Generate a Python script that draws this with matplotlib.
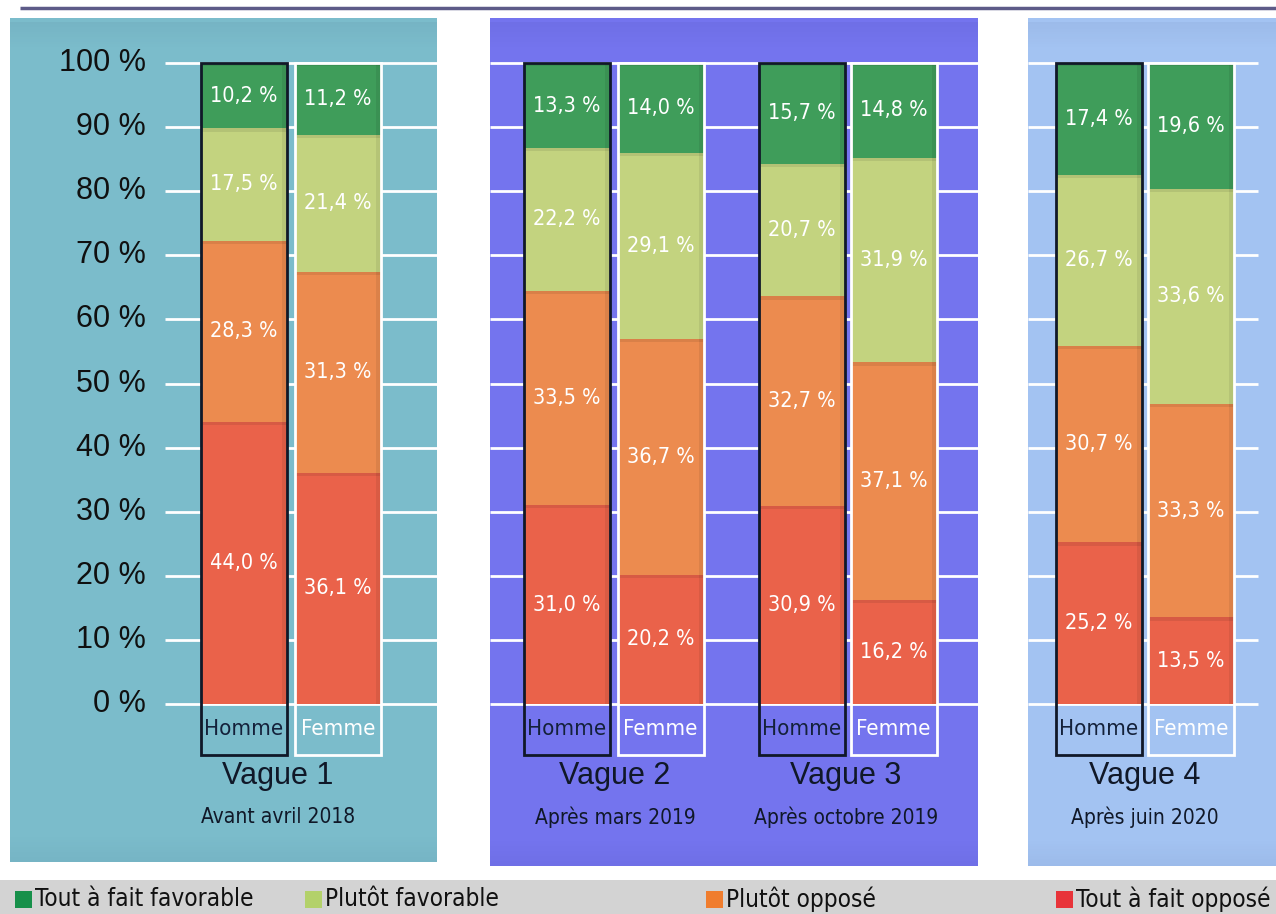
import matplotlib
matplotlib.use('Agg')
import matplotlib.pyplot as plt
from matplotlib.patches import Rectangle
from matplotlib import font_manager as fm
import numpy as np

# ---------------- data ----------------
waves = ['Vague 1', 'Vague 2', 'Vague 3', 'Vague 4']
periods = ['Avant avril 2018', 'Après mars 2019', 'Après octobre 2019', 'Après juin 2020']
sexes = ['Homme', 'Femme']
categories = ['Tout à fait favorable', 'Plutôt favorable', 'Plutôt opposé', 'Tout à fait opposé']
# order of bars: V1 H, V1 F, V2 H, V2 F, V3 H, V3 F, V4 H, V4 F
tout_oppose = [44.0, 36.1, 31.0, 20.2, 30.9, 16.2, 25.2, 13.5]
plutot_oppose = [28.3, 31.3, 33.5, 36.7, 32.7, 37.1, 30.7, 33.3]
plutot_favorable = [17.5, 21.4, 22.2, 29.1, 20.7, 31.9, 26.7, 33.6]
tout_favorable = [10.2, 11.2, 13.3, 14.0, 15.7, 14.8, 17.4, 19.6]
ytick_values = [0, 10, 20, 30, 40, 50, 60, 70, 80, 90, 100]

# ---------------- layout / style ----------------
W, H = 1276, 914
Y0, PX_PER_PCT = 704.0, 6.41


def py(p):
    """pixel row -> percent axis value"""
    return (Y0 - p) / PX_PER_PCT


bar_x = [243.5, 338, 567, 660.5, 801.5, 893.5, 1098.5, 1191]
bar_w = 86
wave_x = [278, 615, 846, 1145]

seg_colors = {'Tout à fait opposé': '#ea624a', 'Plutôt opposé': '#ec8b4f',
              'Plutôt favorable': '#c3d37f', 'Tout à fait favorable': '#3f9d5a'}
legend_colors = {'Tout à fait favorable': '#17904a', 'Plutôt favorable': '#b3d16a',
                 'Plutôt opposé': '#f07d2e', 'Tout à fait opposé': '#e8343a'}

has_cond = any(f.name == 'DejaVu Sans' and 'condensed' in str(f.stretch)
               for f in fm.fontManager.ttflist)
if has_cond:
    narrow = dict(family=['DejaVu Sans'], fontstretch='condensed')
    nscale = 1.0
else:
    narrow = dict(family=['Liberation Sans', 'DejaVu Sans'])
    nscale = 1.05
arial = ['Liberation Sans', 'DejaVu Sans']

fig = plt.figure(figsize=(W / 100, H / 100), dpi=100)
ax = fig.add_axes([0, 0, 1, 1])
ax.set_xlim(0, W)
ax.set_ylim(py(H), py(0))
ax.axis('off')

# top rule
ax.plot([20, W], [py(8), py(8)], color='#5d5b88', lw=2.5, zorder=1, solid_capstyle='butt')

# panels (x0, x1, y0, y1 in pixels) and colour
panels = [((10, 437, 18, 862), '#7bbccb', 165),
          ((490, 978, 18, 866), '#7474ee', 490),
          ((1028, 1276, 18, 866), '#a3c3f2', 1028)]
for (x0, x1, y0, y1), col, gx0 in panels:
    ax.add_patch(Rectangle((x0, py(y1)), x1 - x0, py(y0) - py(y1), facecolor=col,
                           edgecolor='none', zorder=0))
    for k in range(10):
        a = 0.04
        ax.add_patch(Rectangle((x0, py(y0 + 6 + 2.5 * k)), x1 - x0, 2.5 / PX_PER_PCT,
                               facecolor='#000030', alpha=a * (10 - k) / 10, edgecolor='none', zorder=0.2))
        ax.add_patch(Rectangle((x0, py(y1 - 2.5 * k)), x1 - x0, 2.5 / PX_PER_PCT,
                               facecolor='#000030', alpha=a * (10 - k) / 10, edgecolor='none', zorder=0.2))
    gx1 = x1 if x1 < W else 1258
    for v in ytick_values:
        ax.plot([gx0, gx1], [v, v], color='white', lw=2, zorder=1, solid_capstyle='butt')

# y tick labels
for v in ytick_values:
    ax.text(146, v, f'{v} %', ha='right', va='center', fontsize=22, family=arial,
            color='#101010', zorder=4)

# stacked bars
stack_order = [('Tout à fait opposé', tout_oppose), ('Plutôt opposé', plutot_oppose),
               ('Plutôt favorable', plutot_favorable), ('Tout à fait favorable', tout_favorable)]
bottom = np.zeros(len(bar_x))
for name, vals in stack_order:
    vals = np.array(vals)
    ax.bar(bar_x, vals, bottom=bottom, width=bar_w, color=seg_colors[name],
           edgecolor='none', zorder=2)
    for x, b, v in zip(bar_x, bottom, vals):
        ax.add_patch(Rectangle((x - bar_w / 2, b + v - 0.5), bar_w, 0.5, facecolor='black',
                               alpha=0.08, edgecolor='none', zorder=2.1))
        ax.add_patch(Rectangle((x + bar_w / 2 - 5, b), 5, v, facecolor='black',
                               alpha=0.07, edgecolor='none', zorder=2.1))
        ax.text(x, b + v / 2, f'{v:.1f} %'.replace('.', ','), ha='center', va='center',
                fontsize=15.5 * nscale, color='white', zorder=4, **narrow)
    bottom += vals

# Homme / Femme boxes and labels
for i, x in enumerate(bar_x):
    is_h = (i % 2 == 0)
    ec = '#101828' if is_h else 'white'
    ax.add_patch(Rectangle((x - bar_w / 2, py(755)), bar_w, 100 - py(755), facecolor='none',
                           edgecolor=ec, lw=2, zorder=3))
    ax.text(x, py(729), sexes[i % 2], ha='center', va='center', fontsize=16 * nscale,
            color='#14213a' if is_h else 'white', zorder=4, **narrow)

# wave labels
for wx, wname, per in zip(wave_x, waves, periods):
    ax.text(wx, py(776), wname, ha='center', va='center', fontsize=22, family=arial,
            color='#101828', zorder=4)
    ax.text(wx, py(817), per, ha='center', va='center', fontsize=15 * nscale,
            color='#101828', zorder=4, **narrow)

# legend band
ax.add_patch(Rectangle((0, py(914)), W, py(880) - py(914), facecolor='#d3d3d3',
                       edgecolor='none', zorder=0))
leg_x = [15, 305, 706, 1056]
for lx, name in zip(leg_x, categories):
    ax.add_patch(Rectangle((lx, py(908)), 17, 17 / PX_PER_PCT, facecolor=legend_colors[name],
                           edgecolor='none', zorder=3))
    ax.text(lx + 20, py(899), name, ha='left', va='center', fontsize=17.5 * nscale,
            color='#111111', zorder=4, **narrow)

fig.savefig('out.png', dpi=100)
